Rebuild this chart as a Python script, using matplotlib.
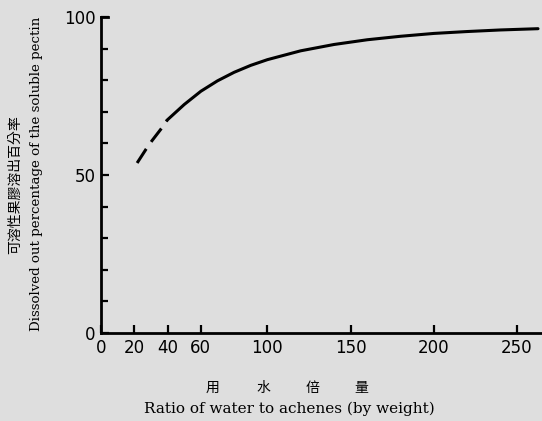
import matplotlib.pyplot as plt

# values
x_dash = [21.7, 27.1, 30.7, 36.7, 39.8]
y_dash = [53.8, 58.2, 60.9, 65.0, 67.4]
x_solid = [39.8, 50, 60, 70, 80, 90, 100, 120, 140, 160, 180, 200, 220, 240, 262.6]
y_solid = [67.4, 72.3, 76.5, 79.8, 82.5, 84.7, 86.5, 89.3, 91.3, 92.8, 93.9, 94.8, 95.4, 95.9, 96.3]

x_ticks = [0, 20, 40, 60, 100, 150, 200, 250]
y_ticks = [0, 50, 100]
y_minor = [10, 20, 30, 40, 60, 70, 80, 90]

xlabel_zh = ["用", "水", "倍", "量"]
xlabel_zh_pos = [213, 263, 312, 361]

bg = "#dedede"
fig = plt.figure(figsize=(5.42, 4.21), dpi=100, facecolor=bg)
ax = fig.add_axes([101 / 542, 88 / 421, 441 / 542, 316 / 421])
ax.set_facecolor(bg)

ax.plot(x_dash, y_dash, color="black", lw=2.2, linestyle=(0, (5.5, 2.8)), solid_capstyle="butt")
ax.plot(x_solid, y_solid, color="black", lw=2.2, solid_capstyle="round", solid_joinstyle="round")

ax.set_xlim(0, 265)
ax.set_ylim(0, 100)
for side in ["top", "right"]:
    ax.spines[side].set_visible(False)
for side in ["left", "bottom"]:
    ax.spines[side].set_linewidth(2.0)
ax.plot([0, 4], [100, 100], color="black", lw=2.0, clip_on=False)

ax.set_xticks(x_ticks)
ax.set_xticklabels([str(v) for v in x_ticks])
ax.set_yticks(y_ticks)
ax.set_yticklabels([str(v) for v in y_ticks])
ax.set_yticks(y_minor, minor=True)
ax.tick_params(axis="both", which="both", direction="in", width=1.6, color="black")
ax.tick_params(axis="both", which="major", length=6, labelsize=12, pad=4)
ax.tick_params(axis="y", which="minor", length=5)

fig.text(15 / 542, 1 - 185 / 421, "可溶性果膠溶出百分率", rotation=90, ha="center", va="center",
         fontsize=10, family=["Noto Sans CJK TC", "DejaVu Sans"])
fig.text(37 / 542, 1 - 174 / 421, "Dissolved out percentage of the soluble pectin", rotation=90,
         ha="center", va="center", fontsize=9.6, family="DejaVu Serif")
for ch, px in zip(xlabel_zh, xlabel_zh_pos):
    fig.text(px / 542, 1 - 388 / 421, ch, ha="center", va="center",
             fontsize=10, family=["Noto Sans CJK TC", "DejaVu Sans"])
fig.text(289 / 542, 1 - 409 / 421, "Ratio of water to achenes (by weight)", ha="center", va="center",
         fontsize=11, family="DejaVu Serif")

fig.savefig("out.png", dpi=100, facecolor=bg)
